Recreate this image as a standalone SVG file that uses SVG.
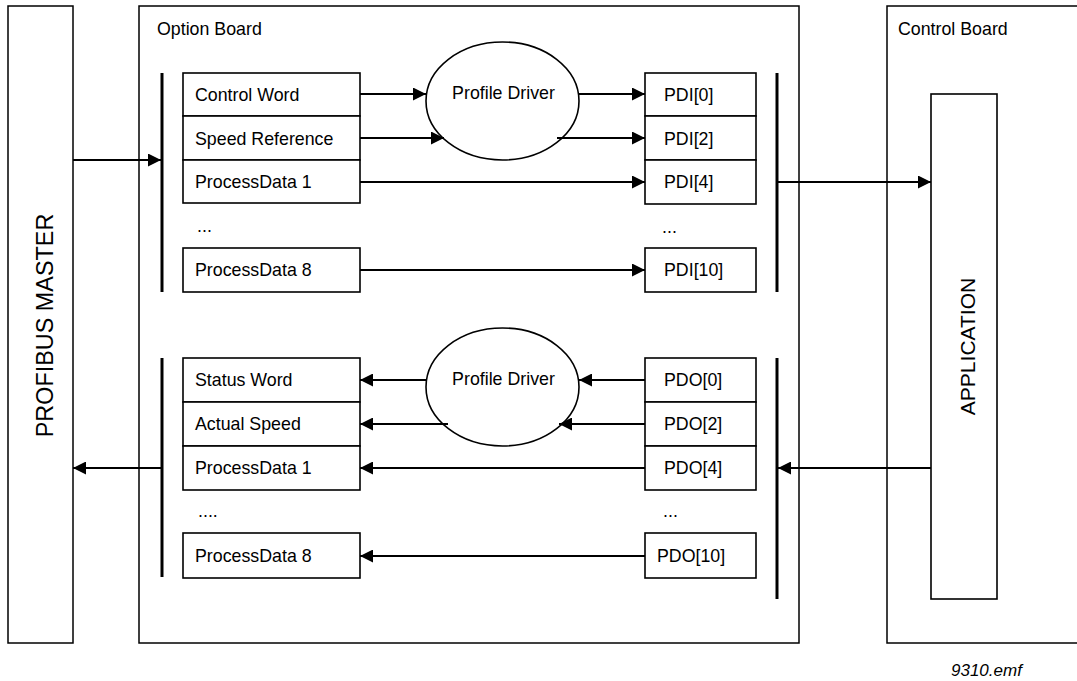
<svg xmlns="http://www.w3.org/2000/svg" width="1077" height="681" viewBox="0 0 1077 681">
<defs>
<style>
.box{fill:#fff;stroke:#000;stroke-width:1.6}
.frame{fill:none;stroke:#000;stroke-width:1.5}
.bus{stroke:#000;stroke-width:3;fill:none}
.con{stroke:#000;stroke-width:2;fill:none;marker-end:url(#ah)}
.t{font-family:"Liberation Sans",Arial,sans-serif;font-size:17.8px;fill:#000}
.big{font-family:"Liberation Sans",Arial,sans-serif;font-size:23.4px;fill:#000}
.app{font-family:"Liberation Sans",Arial,sans-serif;font-size:21px;fill:#000}
.note{font-family:"Liberation Sans",Arial,sans-serif;font-size:17px;font-style:italic;fill:#000}
</style>
<marker id="ah" markerUnits="userSpaceOnUse" markerWidth="14" markerHeight="13" refX="13" refY="6.5" orient="auto">
<path d="M0,0 L13,6.5 L0,13 z" fill="#000"/>
</marker>
</defs>
<rect width="1077" height="681" fill="#fff"/>

<g id="profibus-master">
<rect class="frame" x="8" y="6" width="65" height="637"/>
<text class="big" transform="translate(53,325.5) rotate(-90)" text-anchor="middle">PROFIBUS MASTER</text>
</g>

<g id="option-board">
<rect class="frame" x="139" y="6" width="660" height="637"/>
<text class="t" x="157" y="35">Option Board</text>
</g>

<g id="control-board">
<rect class="frame" x="887" y="6" width="220" height="637"/>
<text class="t" x="898" y="35">Control Board</text>
</g>

<g id="application">
<rect class="box" x="931" y="94" width="66" height="505"/>
<text class="app" transform="translate(975,346.5) rotate(-90)" text-anchor="middle">APPLICATION</text>
</g>

<g id="bus-in-left"><line class="bus" x1="162" y1="73" x2="162" y2="292"/></g>
<g id="bus-in-right"><line class="bus" x1="777" y1="73" x2="777" y2="292"/></g>
<g id="bus-out-left"><line class="bus" x1="162" y1="358" x2="162" y2="577"/></g>
<g id="bus-out-right"><line class="bus" x1="777" y1="358" x2="777" y2="599"/></g>

<g id="control-word"><rect class="box" x="183" y="73" width="177" height="43"/><text class="t" x="195" y="101">Control Word</text></g>
<g id="speed-reference"><rect class="box" x="183" y="116" width="177" height="44"/><text class="t" x="195" y="145">Speed Reference</text></g>
<g id="in-processdata-1"><rect class="box" x="183" y="160" width="177" height="43"/><text class="t" x="195" y="188">ProcessData 1</text></g>
<g id="in-dots"><text class="t" x="197" y="232">...</text></g>
<g id="in-processdata-8"><rect class="box" x="183" y="248" width="177" height="44"/><text class="t" x="195" y="276">ProcessData 8</text></g>

<g id="profile-driver-in"><ellipse class="box" cx="502.5" cy="101" rx="76.5" ry="59"/><text class="t" x="503.5" y="99" text-anchor="middle">Profile Driver</text></g>

<g id="pdi-0"><rect class="box" x="645" y="73" width="111" height="43"/><text class="t" x="664" y="101">PDI[0]</text></g>
<g id="pdi-2"><rect class="box" x="645" y="116" width="111" height="44"/><text class="t" x="664" y="145">PDI[2]</text></g>
<g id="pdi-4"><rect class="box" x="645" y="160" width="111" height="44"/><text class="t" x="664" y="188">PDI[4]</text></g>
<g id="pdi-dots"><text class="t" x="662" y="233">...</text></g>
<g id="pdi-10"><rect class="box" x="645" y="248" width="111" height="44"/><text class="t" x="664" y="276">PDI[10]</text></g>

<g id="status-word"><rect class="box" x="183" y="358" width="177" height="44"/><text class="t" x="195" y="386">Status Word</text></g>
<g id="actual-speed"><rect class="box" x="183" y="402" width="177" height="44"/><text class="t" x="195" y="430">Actual Speed</text></g>
<g id="out-processdata-1"><rect class="box" x="183" y="446" width="177" height="44"/><text class="t" x="195" y="474">ProcessData 1</text></g>
<g id="out-dots"><text class="t" x="198" y="517">....</text></g>
<g id="out-processdata-8"><rect class="box" x="183" y="533" width="177" height="45"/><text class="t" x="195" y="562">ProcessData 8</text></g>

<g id="profile-driver-out"><ellipse class="box" cx="502.5" cy="387" rx="76.5" ry="59"/><text class="t" x="503.5" y="385" text-anchor="middle">Profile Driver</text></g>

<g id="pdo-0"><rect class="box" x="645" y="358" width="111" height="44"/><text class="t" x="664" y="386">PDO[0]</text></g>
<g id="pdo-2"><rect class="box" x="645" y="402" width="111" height="44"/><text class="t" x="664" y="430">PDO[2]</text></g>
<g id="pdo-4"><rect class="box" x="645" y="446" width="111" height="44"/><text class="t" x="664" y="474">PDO[4]</text></g>
<g id="pdo-dots"><text class="t" x="663" y="517">...</text></g>
<g id="pdo-10"><rect class="box" x="645" y="533" width="111" height="45"/><text class="t" x="657" y="562">PDO[10]</text></g>

<g id="connectors">
<line class="con" x1="73" y1="160" x2="161" y2="160"/>
<line class="con" x1="360" y1="94" x2="426" y2="94"/>
<line class="con" x1="579" y1="94" x2="645" y2="94"/>
<line class="con" x1="360" y1="138" x2="444" y2="138"/>
<line class="con" x1="557" y1="138" x2="645" y2="138"/>
<line class="con" x1="360" y1="182" x2="645" y2="182"/>
<line class="con" x1="360" y1="270" x2="645" y2="270"/>
<line class="con" x1="777" y1="182" x2="931" y2="182"/>
<line class="con" x1="931" y1="468" x2="778" y2="468"/>
<line class="con" x1="645" y1="380" x2="579" y2="380"/>
<line class="con" x1="426" y1="380" x2="360" y2="380"/>
<line class="con" x1="645" y1="424" x2="559" y2="424"/>
<line class="con" x1="448" y1="424" x2="360" y2="424"/>
<line class="con" x1="645" y1="468" x2="360" y2="468"/>
<line class="con" x1="645" y1="556" x2="360" y2="556"/>
<line class="con" x1="162" y1="468" x2="73" y2="468"/>
</g>

<text class="note" x="951" y="676">9310.emf</text>
</svg>
